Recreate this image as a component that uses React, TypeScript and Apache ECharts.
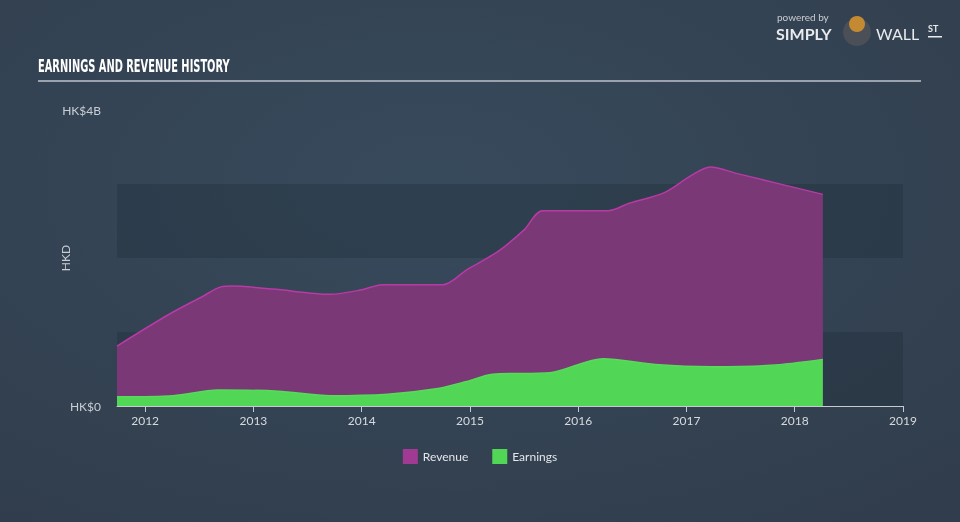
import React, { useEffect, useRef } from "react";
import * as echarts from "echarts";

const revenueDates = [2011.74, 2012.21, 2012.53, 2012.70, 2012.80, 2013.18, 2013.71, 2014.0, 2014.19, 2014.75, 2014.97, 2015.26, 2015.5, 2015.67, 2016.28, 2016.47, 2016.79, 2017.05, 2017.22, 2017.47, 2018.26];
const revenueValues = [0.81, 1.23, 1.48, 1.61, 1.62, 1.58, 1.51, 1.57, 1.64, 1.64, 1.84, 2.09, 2.38, 2.64, 2.64, 2.74, 2.88, 3.12, 3.23, 3.14, 2.86];
const earningsDates = [2011.74, 2012.26, 2012.67, 2013.23, 2013.71, 2014.24, 2014.72, 2014.97, 2015.21, 2015.74, 2016.23, 2016.71, 2017.24, 2017.78, 2018.26];
const earningsValues = [0.126, 0.14, 0.216, 0.2, 0.14, 0.16, 0.24, 0.33, 0.43, 0.45, 0.64, 0.56, 0.53, 0.55, 0.63];
const yearTicks = [2012, 2013, 2014, 2015, 2016, 2017, 2018, 2019];
const yTickLabels: Record<number, string> = { 0: "HK$0", 4: "HK$4B" };

const FONT = "Lato, 'Open Sans', sans-serif";

export default function App() {
  const ref = useRef<HTMLDivElement>(null);
  useEffect(() => {
    if (!ref.current) return;
    const chart = echarts.init(ref.current, undefined, { renderer: "svg" });
    const revenue = revenueDates.map((d, i) => [d, revenueValues[i]]);
    const earnings = earningsDates.map((d, i) => [d, earningsValues[i]]);
    chart.setOption({
      animation: false,
      backgroundColor: {
        type: "radial",
        x: 0.45,
        y: 0.35,
        r: 0.8,
        colorStops: [
          { offset: 0, color: "#374a5c" },
          { offset: 1, color: "#313d4c" },
        ],
      },
      textStyle: { fontFamily: FONT },
      grid: { left: 117, right: 57, top: 110, bottom: 116 },
      xAxis: {
        type: "value",
        min: 2011.74,
        max: 2019,
        splitLine: { show: false },
        axisLine: { show: true, lineStyle: { color: "#c5cad1", width: 1 } },
        axisTick: { show: true, customValues: yearTicks, length: 6, lineStyle: { color: "#c5cad1" } },
        axisLabel: {
          customValues: yearTicks,
          color: "#d6dade",
          fontSize: 12,
          margin: 8,
          fontFamily: FONT,
          formatter: (v: number) => String(Math.round(v)),
        },
      },
      yAxis: {
        type: "value",
        min: 0,
        max: 4,
        interval: 1,
        name: "HKD",
        nameLocation: "middle",
        nameRotate: 90,
        nameGap: 46,
        nameMoveOverlap: false,
        nameTextStyle: { color: "#c9ced4", fontSize: 12, fontFamily: FONT },
        axisLine: { show: false },
        axisTick: { show: false },
        splitLine: { show: false },
        splitArea: { show: true, areaStyle: { color: ["rgba(20,30,42,0.22)", "rgba(0,0,0,0)"] } },
        axisLabel: {
          color: "#c9ced4",
          fontSize: 12,
          margin: 16,
          fontFamily: FONT,
          formatter: (v: number) => yTickLabels[v] ?? "",
        },
      },
      legend: {
        bottom: 53,
        left: "center",
        itemWidth: 15,
        itemHeight: 15,
        itemGap: 24,
        icon: "rect",
        textStyle: { color: "#e4e6e9", fontSize: 12, fontFamily: FONT },
        data: [
          { name: "Revenue", itemStyle: { color: "#a13a92" } },
          { name: "Earnings", itemStyle: { color: "#52d655" } },
        ],
      },
      series: [
        {
          name: "Revenue",
          type: "line",
          data: revenue,
          smooth: 0.3,
          showSymbol: false,
          lineStyle: { color: "#b73aa5", width: 1.5 },
          itemStyle: { color: "#a13a92" },
          areaStyle: { color: "#7a3876", opacity: 1 },
          z: 2,
        },
        {
          name: "Earnings",
          type: "line",
          data: earnings,
          smooth: 0.3,
          showSymbol: false,
          lineStyle: { color: "#55dd58", width: 1.5 },
          itemStyle: { color: "#52d655" },
          areaStyle: { color: "#52d655", opacity: 1 },
          z: 3,
        },
      ],
      graphic: [
        {
          type: "text",
          left: 38,
          top: 58,
          scaleX: 0.645,
          style: {
            text: "EARNINGS AND REVENUE HISTORY",
            fill: "#ffffff",
            font: "bold 17px 'DejaVu Sans Condensed', 'DejaVu Sans', sans-serif",
          },
        },
        {
          type: "rect",
          shape: { x: 38, y: 80, width: 883, height: 2 },
          style: { fill: "#9aa2ad" },
        },
        {
          type: "text",
          x: 777,
          y: 12,
          style: { text: "powered by", fill: "#c9cdd2", font: "10px " + FONT },
        },
        {
          type: "text",
          x: 776,
          y: 25,
          style: { text: "SIMPLY", fill: "#e8eaed", font: "bold 16px " + FONT },
        },
        {
          type: "circle",
          shape: { cx: 857, cy: 32, r: 14 },
          style: { fill: "#4b4f57" },
        },
        {
          type: "circle",
          shape: { cx: 857, cy: 24, r: 8 },
          style: { fill: "#c48a32" },
        },
        {
          type: "text",
          x: 876,
          y: 25,
          style: { text: "WALL", fill: "#e8eaed", font: "16px " + FONT },
        },
        {
          type: "text",
          x: 928,
          y: 24,
          style: { text: "ST", fill: "#e8eaed", font: "bold 9px " + FONT },
        },
        {
          type: "rect",
          shape: { x: 928, y: 36, width: 14, height: 1.5 },
          style: { fill: "#e8eaed" },
        },
      ],
    });
    return () => chart.dispose();
  }, []);
  return (
    <div
      ref={ref}
      style={{ position: "fixed", left: 0, top: 0, width: 960, height: 522 }}
    />
  );
}
